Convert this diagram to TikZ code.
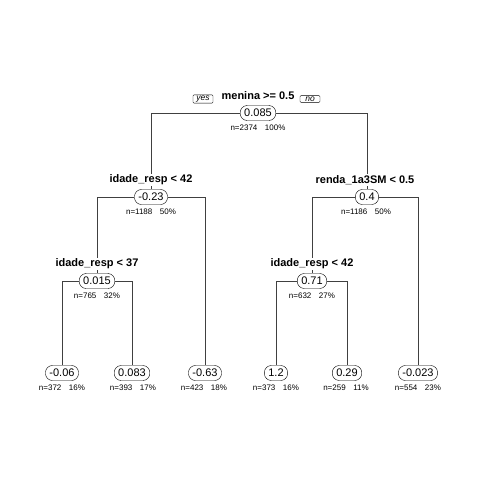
\documentclass[tikz,border=0pt]{standalone}
\usepackage{fontspec}
\setmainfont{Liberation Sans}
\usetikzlibrary{backgrounds}
\begin{document}
\begin{tikzpicture}[x=1pt,y=-1pt,
  fit/.style={draw,fill=white,rounded corners=7pt,inner xsep=4pt,inner ysep=1pt,
    minimum height=15pt,font=\fontsize{11}{12}\selectfont},
  split/.style={fill=white,inner sep=1pt,font=\bfseries\fontsize{11}{12}\selectfont},
  count/.style={inner sep=0pt,font=\fontsize{8}{9}\selectfont},
  tag/.style={draw,rounded corners=1pt,inner xsep=3pt,inner ysep=1pt,minimum width=20pt,
    font=\itshape\fontsize{8.5}{9}\selectfont},
  branch/.style={draw=black!75,line width=0.6pt}]

  \useasboundingbox (0,0) rectangle (480,480);

  \def\ya{113}   % root
  \def\yb{197}   % level 2
  \def\yc{281}   % level 3
  \def\yd{373}   % leaves
  \def\dl{17}    % split label above node
  \def\dn{15}    % count below node

  % fitted nodes
  \node[fit] (root) at (258,\ya) {0.085};
  \node[fit] (L)    at (151,\yb) {-0.23};
  \node[fit] (R)    at (367,\yb) {0.4};
  \node[fit] (LL)   at (97,\yc)  {0.015};
  \node[fit] (RL)   at (312,\yc) {0.71};
  \node[fit] (LLL)  at (62,\yd)  {-0.06};
  \node[fit] (LLR)  at (132,\yd) {0.083};
  \node[fit] (LR)   at (205,\yd) {-0.63};
  \node[fit] (RLL)  at (276,\yd) {1.2};
  \node[fit] (RLR)  at (347,\yd) {0.29};
  \node[fit] (RR)   at (418,\yd) {-0.023};

  % split labels
  \node[split] (s0) at (258,\ya-\dl) {menina >= 0.5};
  \node[split] (s1) at (151,\yb-\dl) {idade\_resp < 42};
  \node[split] (s2) at (365,\yb-\dl) {renda\_1a3SM < 0.5};
  \node[split] (s3) at (97,\yc-\dl)  {idade\_resp < 37};
  \node[split] (s4) at (312,\yc-\dl) {idade\_resp < 42};

  \node[tag] (yes) at (203,99) {yes};
  \node[tag] (no)  at (310,99) {no};

  % counts
  \node[count] at (258,\ya+\dn) {n=2374\enspace\, 100\%};
  \node[count] at (151,\yb+\dn) {n=1188\enspace\, 50\%};
  \node[count] at (366,\yb+\dn) {n=1186\enspace\, 50\%};
  \node[count] at (97,\yc+\dn)  {n=765\enspace\, 32\%};
  \node[count] at (312,\yc+\dn) {n=632\enspace\, 27\%};
  \node[count] at (62,\yd+\dn)  {n=372\enspace\, 16\%};
  \node[count] at (133,\yd+\dn) {n=393\enspace\, 17\%};
  \node[count] at (204,\yd+\dn) {n=423\enspace\, 18\%};
  \node[count] at (276,\yd+\dn) {n=373\enspace\, 16\%};
  \node[count] at (346,\yd+\dn) {n=259\enspace\, 11\%};
  \node[count] at (418,\yd+\dn) {n=554\enspace\, 23\%};

  % branches
  \begin{pgfonlayer}{background}
    \path[branch] (root) -| (L);
    \path[branch] (root) -| (R);
    \path[branch] (L) -| (LL);
    \path[branch] (L) -| (LR);
    \path[branch] (R) -| (RL);
    \path[branch] (R) -| (RR);
    \path[branch] (LL) -| (LLL);
    \path[branch] (LL) -| (LLR);
    \path[branch] (RL) -| (RLL);
    \path[branch] (RL) -| (RLR);
  \end{pgfonlayer}
\end{tikzpicture}
\end{document}
